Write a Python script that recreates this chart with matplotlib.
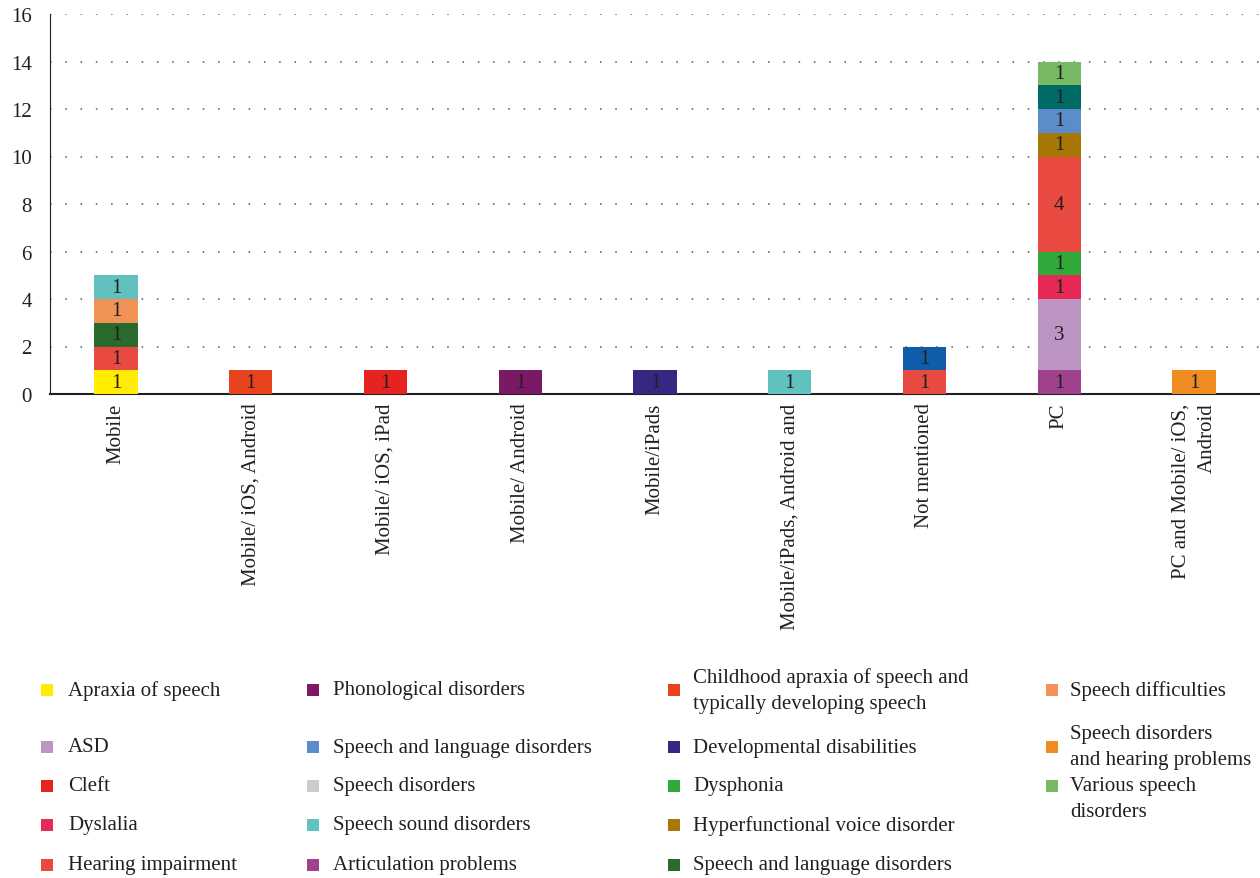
import matplotlib.pyplot as plt
from matplotlib.patches import Rectangle
import numpy as np

plt.rcParams['font.family'] = ['Liberation Serif', 'DejaVu Serif']

# Kategorien (Plattformen)
categories = ["Mobile", "Mobile/ iOS, Android", "Mobile/ iOS, iPad", "Mobile/ Android",
              "Mobile/iPads", "Mobile/iPads, Android and", "Not mentioned", "PC",
              "PC and Mobile/ iOS,\nAndroid"]

# Serien in Stapelreihenfolge
series_names = [
    "Apraxia of speech", "Articulation problems", "ASD",
    "Childhood apraxia of speech and\ntypically developing speech", "Cleft",
    "Developmental disabilities", "Dyslalia", "Dysphonia", "Hearing impairment",
    "Hyperfunctional voice disorder", "(unlabelled blue)", "Phonological disorders",
    "Speech and language disorders", "(unlabelled teal)", "Speech and language disorders ",
    "Speech difficulties", "Speech disorders", "Speech disorders\nand hearing problems",
    "Speech sound disorders", "Various speech\ndisorders",
]
series_colors = [
    "#FFEC00", "#A0418E", "#BD95C4", "#E8421E", "#E52421", "#352883", "#E62A55",
    "#30A83A", "#E84A41", "#A87807", "#0F5CA8", "#7C1966", "#5B8DCB", "#006A66",
    "#2A6A2D", "#F19257", "#CCCCCC", "#F08C22", "#60C1BF", "#77BA63",
]
#                 Mob iOSA iPad And iPads iPAnd NotM PC  PC+M
series_values = [
    [1, 0, 0, 0, 0, 0, 0, 0, 0],  # Apraxia of speech
    [0, 0, 0, 0, 0, 0, 0, 1, 0],  # Articulation problems
    [0, 0, 0, 0, 0, 0, 0, 3, 0],  # ASD
    [0, 1, 0, 0, 0, 0, 0, 0, 0],  # Childhood apraxia
    [0, 0, 1, 0, 0, 0, 0, 0, 0],  # Cleft
    [0, 0, 0, 0, 1, 0, 0, 0, 0],  # Developmental disabilities
    [0, 0, 0, 0, 0, 0, 0, 1, 0],  # Dyslalia
    [0, 0, 0, 0, 0, 0, 0, 1, 0],  # Dysphonia
    [1, 0, 0, 0, 0, 0, 1, 4, 0],  # Hearing impairment
    [0, 0, 0, 0, 0, 0, 0, 1, 0],  # Hyperfunctional voice disorder
    [0, 0, 0, 0, 0, 0, 1, 0, 0],  # unlabelled blue
    [0, 0, 0, 1, 0, 0, 0, 0, 0],  # Phonological disorders
    [0, 0, 0, 0, 0, 0, 0, 1, 0],  # Speech and language disorders (blue)
    [0, 0, 0, 0, 0, 0, 0, 1, 0],  # unlabelled teal
    [1, 0, 0, 0, 0, 0, 0, 0, 0],  # Speech and language disorders (green)
    [1, 0, 0, 0, 0, 0, 0, 0, 0],  # Speech difficulties
    [0, 0, 0, 0, 0, 0, 0, 0, 0],  # Speech disorders
    [0, 0, 0, 0, 0, 0, 0, 0, 1],  # Speech disorders and hearing problems
    [1, 0, 0, 0, 0, 1, 0, 0, 0],  # Speech sound disorders
    [0, 0, 0, 0, 0, 0, 0, 1, 0],  # Various speech disorders
]

# Legendenreihenfolge (spaltenweise), Indizes in series_names
legend_columns = [
    [0, 2, 4, 6, 8],
    [11, 12, 16, 18, 1],
    [3, 5, 7, 9, 14],
    [15, 17, 19],
]

text_color = "#231F20"
fs = 15

fig = plt.figure(figsize=(12.6, 8.79), dpi=100)
W, H = 1260, 879
ax = fig.add_axes([50 / W, 1 - 395 / H, 1 - 50 / W, (395 - 15) / H])

x = np.arange(len(categories))
bottom = np.zeros(len(categories))
for name, color, vals in zip(series_names, series_colors, series_values):
    vals = np.array(vals, dtype=float)
    bars = ax.bar(x, vals, 0.32, bottom=bottom, color=color, zorder=3)
    for b, v in zip(bars, vals):
        if v > 0:
            ax.text(b.get_x() + b.get_width() / 2, b.get_y() + v / 2, f"{int(v)}",
                    ha='center', va='center', fontsize=fs, color=text_color, zorder=4)
    bottom += vals

ax.set_xlim(-0.49, len(categories) - 0.51)
ax.set_ylim(0, 16)
ax.set_yticks(range(0, 17, 2))
ax.yaxis.grid(True, linestyle=(0, (1, 9)), color='#555555', linewidth=1.1)
ax.set_axisbelow(True)
for s in ['top', 'right']:
    ax.spines[s].set_visible(False)
ax.spines['left'].set_color('#231F20')
ax.spines['bottom'].set_color('#231F20')
ax.spines['bottom'].set_linewidth(1.5)
ax.tick_params(axis='y', length=0, pad=13, labelsize=fs, labelcolor=text_color)
ax.tick_params(axis='x', length=0, pad=6, labelsize=fs, labelcolor=text_color)
ax.set_xticks(x)
ax.set_xticklabels(categories, rotation=90, va='top', ha='center', multialignment='right',
                   linespacing=1.5)

# Legende manuell gesetzt
col_marker_x = [41, 307, 668, 1046]
col_text_x = [68, 333, 693, 1070]
row_y = [691, 748, 787, 826, 866]
msize = 12
for c, idxs in enumerate(legend_columns):
    for r, i in enumerate(idxs):
        my = row_y[r]
        ty = my
        if "\n" in series_names[i] and c == 3 and r == 2:
            ty = my + 13
        fig.patches.append(Rectangle((col_marker_x[c] / W, 1 - (my + msize / 2) / H),
                                     msize / W, msize / H, transform=fig.transFigure,
                                     facecolor=series_colors[i], edgecolor='none'))
        fig.text(col_text_x[c] / W, 1 - ty / H, series_names[i].strip(), ha='left', va='center',
                 fontsize=fs, color=text_color, linespacing=1.5)

fig.savefig("out.png", dpi=100)
